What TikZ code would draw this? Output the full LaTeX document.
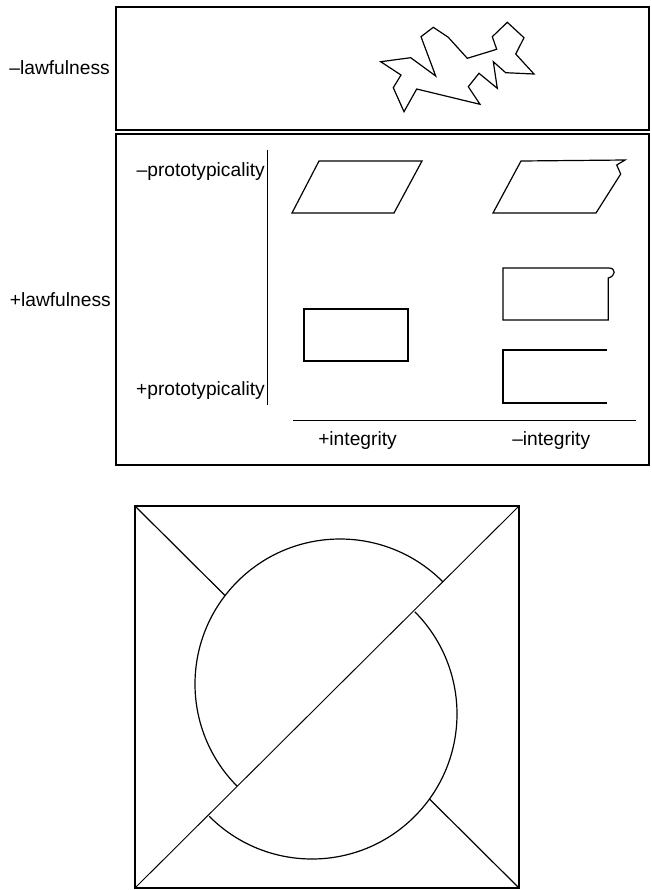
\documentclass[tikz,border=0pt]{standalone}
\usepackage{fontspec}
\setmainfont{Liberation Sans}
\begin{document}
\begin{tikzpicture}[x=0.75pt,y=-0.75pt,
  frame/.style={line width=1.2pt},
  fig/.style={line width=0.9pt, line join=miter},
  thinfig/.style={line width=0.7pt},
  axisline/.style={line width=0.6pt},
  lbl/.style={inner sep=0pt, font=\fontsize{14.4}{17}\selectfont}]
\useasboundingbox (0,0) rectangle (651,890);
% frames
\draw[frame] (116,7) rectangle (649,130);
\draw[frame] (116,134) rectangle (649,465);
% labels
\node[lbl, anchor=base east] (neglaw) at (110,74) {–lawfulness};
\node[lbl, anchor=base east] (poslaw) at (111,306) {+lawfulness};
\node[lbl, anchor=base east] (negproto) at (265,176) {–prototypicality};
\node[lbl, anchor=base east] (posproto) at (265,395) {+prototypicality};
\node[lbl, anchor=base west] (posint) at (318,445) {+integrity};
\node[lbl, anchor=base west] (negint) at (512,445) {–integrity};
% axes
\coordinate (vtop) at (267.5,150);
\coordinate (vbot) at (267.5,405);
\coordinate (hleft) at (293,420);
\coordinate (hright) at (636,420);
\draw[axisline] (vtop) -- (vbot);
\draw[axisline] (hleft) -- (hright);
% irregular shape
\draw[fig] (380.7,61.7) -- (410.7,57.7) -- (435.7,76) -- (421,36.7) -- (433.3,27.3)
  -- (448.3,37.3) -- (467.3,58.3) -- (496.7,49.3) -- (492.3,36.7) -- (507.3,22.3)
  -- (524,37.7) -- (515.7,54) -- (534,74) -- (505.7,72.7) -- (493.3,61.7)
  -- (497.3,88.3) -- (479,73.3) -- (468.3,86.7) -- (480,104.3) -- (416.7,89)
  -- (404,111.7) -- (393.3,87.7) -- (401,75) -- cycle;
% parallelograms
\draw[fig] (319,161) -- (422,161) -- (394,213) -- (292,213) -- cycle;
\draw[fig] (521,161) -- (625,160) -- (616.7,165) -- (620.7,174) -- (596,213) -- (493,213) -- cycle;
% rectangles
\draw[fig] (304,309) rectangle (408,361);
\draw[fig] (503,268) -- (609,268) .. controls (616,268) and (616,276) .. (608.3,278)
  -- (608.3,320) -- (503,320) -- cycle;
\draw[fig] (607,350) -- (503,350) -- (503,403) -- (607,403);
% bottom figure
\coordinate (sqTL) at (135,506);
\coordinate (sqTR) at (519,506);
\coordinate (sqBR) at (519,888);
\coordinate (sqBL) at (135,888);
\coordinate (c1) at (340,684);
\coordinate (c2) at (312,714);
\coordinate (hit1) at (225.1,595.6);
\coordinate (hit2) at (429.5,799);
\draw[frame] (sqTL) rectangle (sqBR);
\draw[thinfig] (sqBL) -- (sqTR);
\draw[fig] (sqTL) -- (hit1);
\draw[fig] (hit2) -- (sqBR);
\draw[fig] ([shift={(224.85:108.75pt)}]c1) arc[start angle=224.85, end angle=44.85, radius=108.75pt];
\draw[fig] ([shift={(44.85:108.75pt)}]c2) arc[start angle=44.85, end angle=-135.15, radius=108.75pt];
\end{tikzpicture}
\end{document}
